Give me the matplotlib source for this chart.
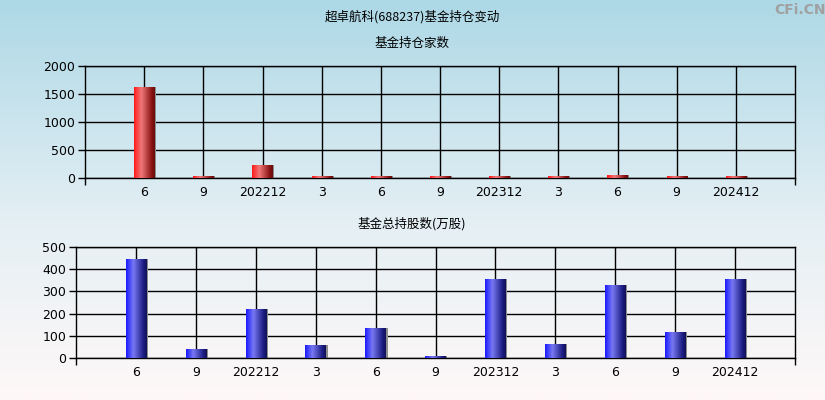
import matplotlib
matplotlib.use("Agg")
import matplotlib.pyplot as plt
from matplotlib.colors import LinearSegmentedColormap
import numpy as np

plt.rcParams['font.family'] = ['Noto Sans CJK SC', 'DejaVu Sans']

# data
periods = ['6', '9', '202212', '3', '6', '9', '202312', '3', '6', '9', '202412']
fund_count = [1625, 35, 232, 34, 34, 34, 34, 34, 54, 34, 34]
fund_shares = [446, 41, 221, 60, 136, 9, 356, 63, 329, 117, 356]

title = '超卓航科(688237)基金持仓变动'
top_title = '基金持仓家数'
bottom_title = '基金总持股数(万股)'

red_cmap = LinearSegmentedColormap.from_list(
    'red_bar', [(0, '#ff1a1a'), (0.35, '#f07878'), (0.85, '#8a1414'), (1, '#6a0c0c')])
blue_cmap = LinearSegmentedColormap.from_list(
    'blue_bar', [(0, '#1a1aff'), (0.35, '#7878f4'), (0.85, '#1c1c80'), (1, '#101058')])


def gradient_bars(ax, values, cmap, width=0.34):
    x = np.arange(len(values))
    # grey shadow on the right side
    ax.bar(x + 0.03, values, width=width, color='#8c8c8c', zorder=2)
    bars = ax.bar(x, values, width=width, color='none', zorder=3)
    grad = np.linspace(0, 1, 64).reshape(1, -1)
    for b in bars:
        x0, y0 = b.get_x(), b.get_y()
        w, h = b.get_width(), b.get_height()
        im = ax.imshow(grad, cmap=cmap, aspect='auto', zorder=3,
                       extent=(x0, x0 + w, y0, y0 + h), interpolation='bilinear')
        im.set_clip_path(b)
    return bars


def style_axis(ax, ymax, ystep):
    ax.set_xlim(-1, len(periods))
    ax.set_ylim(0, ymax)
    ax.set_facecolor('none')
    ax.set_xticks(np.arange(len(periods)))
    ax.set_xticklabels(periods)
    ax.set_xticks([-1, len(periods)], minor=True)
    ax.set_yticks(np.arange(0, ymax + 1, ystep))
    ax.grid(True, color='black', linewidth=1, zorder=1)
    ax.set_axisbelow(True)
    ax.tick_params(axis='x', which='major', length=0, pad=6, labelsize=9)
    ax.tick_params(axis='x', which='minor', length=5, width=1)
    ax.tick_params(axis='y', length=5, width=1, labelsize=9, pad=2)
    for s in ax.spines.values():
        s.set_color('black')
        s.set_linewidth(1)
    for lab in ax.get_xticklabels() + ax.get_yticklabels():
        lab.set_family(['DejaVu Sans'])


fig = plt.figure(figsize=(8.25, 4), dpi=100)

# background gradient
bg = fig.add_axes([0, 0, 1, 1], zorder=-10)
bg_cmap = LinearSegmentedColormap.from_list(
    'bg', [(0, '#add8e6'), (0.55, '#e4eff4'), (1, '#fff8f8')])
bg.imshow(np.linspace(0, 1, 256).reshape(-1, 1), cmap=bg_cmap, aspect='auto',
          extent=(0, 1, 0, 1))
bg.set_axis_off()

W, H = 825, 400
ax1 = fig.add_axes([85 / W, 1 - 178 / H, 710 / W, 112 / H])
ax2 = fig.add_axes([76 / W, 1 - 358 / H, 719 / W, 111 / H])

gradient_bars(ax1, fund_count, red_cmap)
style_axis(ax1, 2000, 500)
gradient_bars(ax2, fund_shares, blue_cmap)
style_axis(ax2, 500, 100)

fig.text(412 / W, 1 - 17 / H, title, ha='center', va='center', fontsize=9)
fig.text(412 / W, 1 - 43 / H, top_title, ha='center', va='center', fontsize=9)
fig.text(412 / W, 1 - 224 / H, bottom_title, ha='center', va='center', fontsize=9)
fig.text(800 / W, 1 - 10 / H, 'CFi.CN', ha='center', va='center', fontsize=10,
         color='#a0a0a0', fontweight='bold', family=['DejaVu Sans'])

fig.savefig('out.png', dpi=100)
